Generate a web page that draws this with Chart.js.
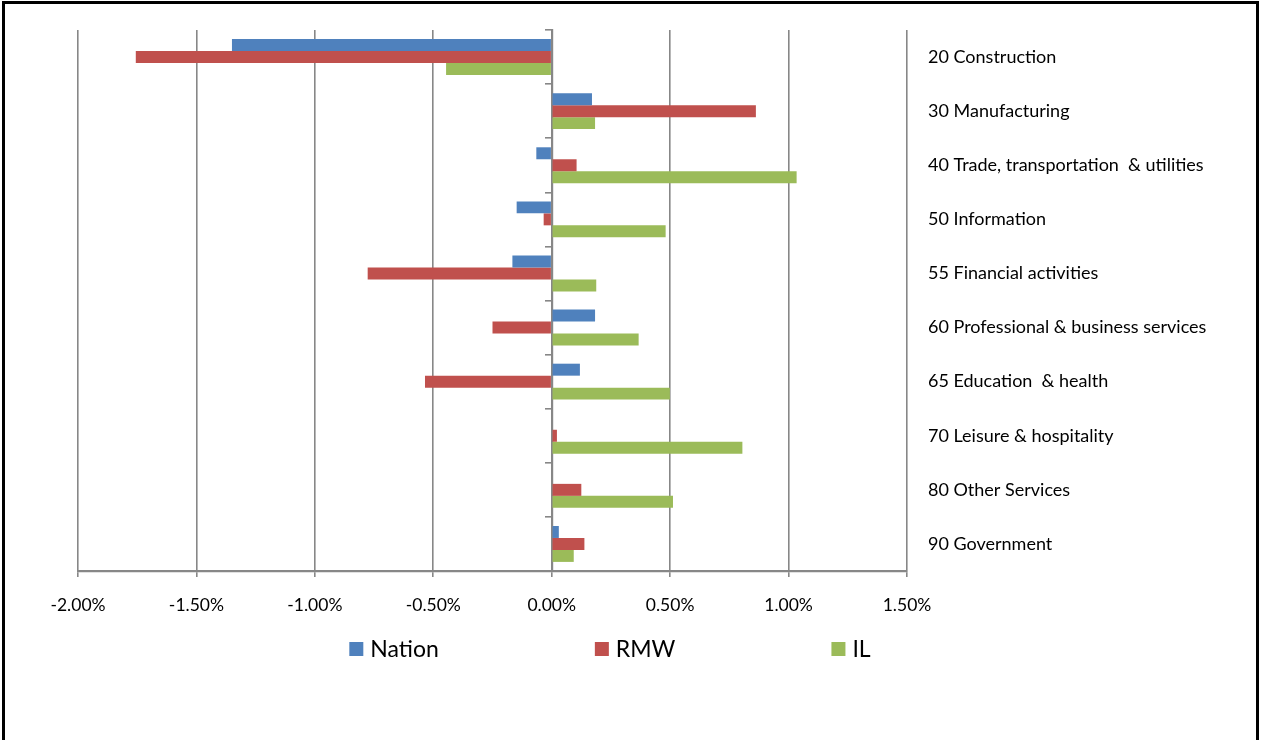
<!DOCTYPE html>
<html>
<head>
<meta charset="utf-8">
<script src="https://cdn.jsdelivr.net/npm/chart.js@4"></script>
<style>
  html, body { margin: 0; padding: 0; background: #fff; }
  #wrap { position: relative; width: 1261px; height: 740px; overflow: hidden; }
  #frame {
    position: absolute; left: 2px; top: 1px; width: 1257px; height: 800px;
    border: 3px solid #000; pointer-events: none; box-sizing: border-box;
  }
  canvas { position: absolute; left: 0; top: 0; }
</style>
</head>
<body>
<div id="wrap">
  <canvas id="chart" width="1261" height="740"></canvas>
  <div id="frame"></div>
</div>
<script>
// Employment change by industry, percent
const categories = [
  '20 Construction',
  '30 Manufacturing',
  '40 Trade, transportation  & utilities',
  '50 Information',
  '55 Financial activities',
  '60 Professional & business services',
  '65 Education  & health',
  '70 Leisure & hospitality',
  '80 Other Services',
  '90 Government'
];
const seriesNames = ['Nation', 'RMW', 'IL'];
const nation = [-1.350, 0.170, -0.065, -0.148, -0.166, 0.183, 0.119, 0.000, 0.000, 0.030];
const rmw    = [-1.756, 0.862, 0.105, -0.034, -0.777, -0.250, -0.535, 0.022, 0.125, 0.138];
const il     = [-0.446, 0.183, 1.034, 0.481, 0.188, 0.367, 0.499, 0.805, 0.512, 0.093];
const xTicks = [-2.0, -1.5, -1.0, -0.5, 0.0, 0.5, 1.0, 1.5];

const colors = ['#4F81BD', '#C0504D', '#9BBB59'];
const FONT = 'Lato, "Open Sans", sans-serif';
const GRID = '#878787';

// Legend with wide, even gaps between entries, drawn under the axis
const spacedLegend = {
  id: 'spacedLegend',
  afterDraw(chart, args, opts) {
    const ctx = chart.ctx;
    const ds = chart.data.datasets;
    ctx.save();
    ctx.font = opts.fontSize + 'px ' + FONT;
    ctx.textBaseline = 'middle';
    ctx.textAlign = 'left';
    const widths = ds.map(d => opts.box + opts.textGap + ctx.measureText(d.label).width);
    const total = widths.reduce((a, b) => a + b, 0) + opts.gap * (ds.length - 1);
    let x = opts.centerX - total / 2;
    ds.forEach((d, i) => {
      ctx.fillStyle = d.backgroundColor;
      ctx.fillRect(x, opts.y - opts.box / 2, opts.box, opts.box);
      ctx.fillStyle = '#000';
      ctx.fillText(d.label, x + opts.box + opts.textGap, opts.y + 1);
      x += widths[i] + opts.gap;
    });
    ctx.restore();
  }
};

new Chart(document.getElementById('chart'), {
  type: 'bar',
  data: {
    labels: categories,
    datasets: [
      { label: seriesNames[0], data: nation, backgroundColor: colors[0] },
      { label: seriesNames[1], data: rmw,    backgroundColor: colors[1] },
      { label: seriesNames[2], data: il,     backgroundColor: colors[2] }
    ]
  },
  options: {
    indexAxis: 'y',
    responsive: false,
    animation: false,
    devicePixelRatio: 1,
    categoryPercentage: 0.664,
    barPercentage: 1.0,
    layout: { padding: { top: 30, left: 78, right: 0, bottom: 106 } },
    scales: {
      x: {
        type: 'linear',
        min: xTicks[0],
        max: xTicks[xTicks.length - 1],
        z: 1,
        afterBuildTicks: (scale) => { scale.ticks = xTicks.map(v => ({ value: v })); },
        ticks: {
          callback: (v) => v.toFixed(2) + '%',
          font: { family: FONT, size: 17.5 },
          color: '#000',
          padding: 18,
          maxRotation: 0
        },
        grid: { color: GRID, lineWidth: 1.6, tickLength: 6, drawTicks: true },
        border: { display: true, color: GRID, width: 2.2 }
      },
      y: {
        position: { x: 0 },
        z: 1,
        ticks: { display: false },
        grid: { drawOnChartArea: false, drawTicks: true, tickLength: 6, color: GRID, lineWidth: 1.6 },
        border: { display: true, color: GRID, width: 2.2 }
      },
      yLabels: {
        type: 'category',
        position: 'right',
        labels: categories,
        offset: true,
        grid: { display: false },
        border: { display: false },
        ticks: {
          font: { family: FONT, size: 18 },
          color: '#000',
          padding: 13,
          autoSkip: false
        },
        afterFit: (scale) => { scale.width = 354; }
      }
    },
    plugins: {
      legend: { display: false },
      tooltip: { enabled: false },
      spacedLegend: { centerX: 610, y: 649, box: 14, textGap: 7, gap: 156, fontSize: 23 }
    }
  },
  plugins: [spacedLegend]
});
</script>
</body>
</html>
